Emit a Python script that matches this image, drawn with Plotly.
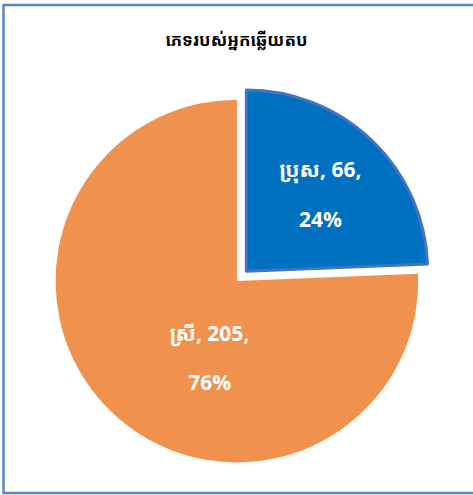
import plotly.graph_objects as go

labels = ["ប្រុស", "ស្រី"]
values = [66, 205]
colors = ["#0070C0", "#F0914E"]
title_text = "ភេទរបស់អ្នកឆ្លើយតប"

# label-placement padding (style only): extra top line and left indent for the big slice
NB = "\u00a0"
top_pad = ["", NB + "<br>"]
left_pad = ["", NB * 13]

fig = go.Figure(go.Pie(
    labels=labels,
    values=values,
    sort=False,
    direction="clockwise",
    rotation=0,
    pull=[0.075, 0],
    marker=dict(colors=colors, line=dict(color=["#4472C4", "#F0914E"], width=[3, 0])),
    customdata=list(zip(top_pad, left_pad)),
    texttemplate=("%{customdata[0]}<span style='font-size:21px'><b>%{customdata[1]}%{label}, %{value},</b></span>"
                  "<br><br><span style='font-size:21px'><b>%{customdata[1]}%{percent:.0%}</b></span>"),
    textposition="inside",
    insidetextorientation="horizontal",
    textfont=dict(color="white", size=19, family="Open Sans, Noto Sans Khmer, sans-serif"),
    showlegend=False,
    hoverinfo="label+value+percent",
    domain=dict(x=[0.0888, 0.913], y=[0.0384, 0.826]),
))

fig.update_layout(
    width=473, height=495,
    margin=dict(l=0, r=0, t=0, b=0),
    paper_bgcolor="white",
    title=dict(text="<b>" + title_text + "</b>", x=0.5, xanchor="center", y=0.92, yanchor="middle",
               font=dict(size=17, color="black", family="Noto Sans Khmer, sans-serif")),
    shapes=[dict(type="rect", xref="paper", yref="paper",
                 x0=3.5/473, x1=1.02, y0=2/495, y1=1-5/495,
                 line=dict(color="#5B84C8", width=2.5), fillcolor="rgba(0,0,0,0)")],
)

fig.write_html("out.html", config={"displayModeBar": False},
               post_script="document.body.style.margin='0';")
